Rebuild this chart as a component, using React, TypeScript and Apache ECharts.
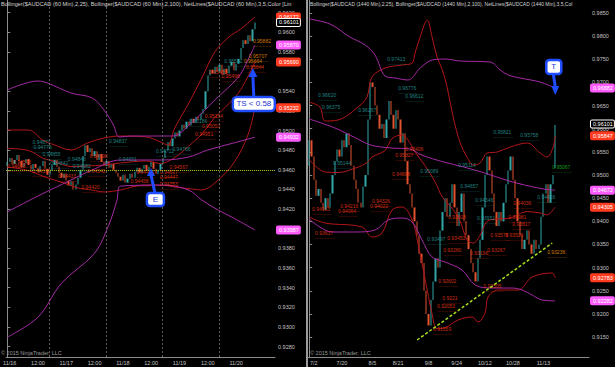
import React, { useEffect, useRef } from "react";
import * as echarts from "echarts";

const FONT = "'Liberation Sans', Arial, sans-serif";

// ---------------- LEFT PANEL (60 Min) ----------------
const leftOpen = [
  0.9464,0.9468,0.9472,0.9466,0.9470,0.9475,0.9469,0.9463,0.9467,0.9471,
  0.9465,0.9460,0.9466,0.9462,0.9458,0.9464,0.9469,0.9461,0.9455,0.9459,
  0.9465,0.9470,0.9463,0.9457,0.9452,0.9456,0.9449,0.9444,0.9448,0.9440,
  0.9445,0.9452,0.9460,0.9474,0.9485,0.9478,0.9482,0.9474,0.9479,0.9470,
  0.9476,0.9468,0.9464,0.9469,0.9462,0.9466,0.9460,0.9457,0.9453,0.9449,
  0.9455,0.9447,0.9451,0.9456,0.9452,0.9458,0.9462,0.9457,0.9461,0.9465,
  0.9459,0.9463,0.9468,0.9461,0.9456,0.9460,0.9466,0.9472,0.9480,0.9488,
  0.9484,0.9492,0.9498,0.9494,0.9500,0.9506,0.9502,0.9509,0.9505,0.9512,
  0.9508,0.9514,0.9511,0.9517,0.9522,0.9540,0.9556,0.9562,0.9558,0.9565,
  0.9560,0.9567,0.9557,0.9563,0.9558,0.9566,0.9570,0.9561,0.9568,0.9573,
  0.9584,0.9592,0.9588,0.9597,0.9591,0.9603,
];
const leftHigh = [
  0.9474,0.9477,0.9475,0.9474,0.9479,0.9478,0.9472,0.9470,0.9476,0.9474,
  0.9468,0.9470,0.9469,0.9465,0.9467,0.9473,0.9472,0.9464,0.9462,0.9469,
  0.9474,0.9473,0.9466,0.9460,0.9460,0.9458,0.9452,0.9451,0.9450,0.9449,
  0.9456,0.9466,0.9480,0.9492,0.9489,0.9486,0.9485,0.9483,0.9481,0.9480,
  0.9479,0.9472,0.9473,0.9471,0.9469,0.9469,0.9463,0.9460,0.9456,0.9458,
  0.9458,0.9454,0.9460,0.9459,0.9461,0.9466,0.9465,0.9463,0.9468,0.9467,
  0.9466,0.9471,0.9470,0.9464,0.9463,0.9469,0.9476,0.9484,0.9493,0.9491,
  0.9495,0.9501,0.9500,0.9503,0.9509,0.9508,0.9512,0.9511,0.9515,0.9514,
  0.9517,0.9516,0.9520,0.9525,0.9545,0.9562,0.9568,0.9566,0.9570,0.9568,
  0.9571,0.9569,0.9566,0.9565,0.9569,0.9575,0.9573,0.9571,0.9577,0.9588,
  0.9596,0.9595,0.9600,0.9599,0.9606,0.9612,
];
const leftLow = [
  0.9458,0.9464,0.9463,0.9462,0.9466,0.9465,0.9459,0.9460,0.9464,0.9461,
  0.9455,0.9457,0.9458,0.9454,0.9455,0.9460,0.9458,0.9451,0.9452,0.9456,
  0.9461,0.9460,0.9453,0.9447,0.9448,0.9444,0.9439,0.9441,0.9436,0.9437,
  0.9442,0.9449,0.9457,0.9470,0.9474,0.9473,0.9470,0.9471,0.9466,0.9467,
  0.9464,0.9459,0.9461,0.9457,0.9459,0.9455,0.9452,0.9448,0.9444,0.9446,
  0.9443,0.9444,0.9448,0.9448,0.9449,0.9455,0.9453,0.9454,0.9458,0.9455,
  0.9456,0.9460,0.9457,0.9450,0.9453,0.9457,0.9463,0.9469,0.9477,0.9480,
  0.9481,0.9489,0.9490,0.9491,0.9497,0.9498,0.9499,0.9502,0.9503,0.9505,
  0.9505,0.9508,0.9508,0.9513,0.9518,0.9536,0.9551,0.9554,0.9555,0.9557,
  0.9557,0.9554,0.9555,0.9554,0.9556,0.9563,0.9558,0.9559,0.9565,0.9570,
  0.9580,0.9584,0.9585,0.9588,0.9589,0.9600,
];
const leftClose = [
  0.9468,0.9472,0.9466,0.9470,0.9475,0.9469,0.9463,0.9467,0.9471,0.9465,
  0.9460,0.9466,0.9462,0.9458,0.9464,0.9469,0.9461,0.9455,0.9459,0.9465,
  0.9470,0.9463,0.9457,0.9452,0.9456,0.9449,0.9444,0.9448,0.9440,0.9445,
  0.9452,0.9460,0.9474,0.9485,0.9478,0.9482,0.9474,0.9479,0.9470,0.9476,
  0.9468,0.9464,0.9469,0.9462,0.9466,0.9460,0.9457,0.9453,0.9449,0.9455,
  0.9447,0.9451,0.9456,0.9452,0.9458,0.9462,0.9457,0.9461,0.9465,0.9459,
  0.9463,0.9468,0.9461,0.9456,0.9460,0.9466,0.9472,0.9480,0.9488,0.9484,
  0.9492,0.9498,0.9494,0.9500,0.9506,0.9502,0.9509,0.9505,0.9512,0.9508,
  0.9514,0.9511,0.9517,0.9522,0.9540,0.9556,0.9562,0.9558,0.9565,0.9560,
  0.9567,0.9557,0.9563,0.9558,0.9566,0.9570,0.9561,0.9568,0.9573,0.9584,
  0.9592,0.9588,0.9597,0.9591,0.9603,0.9610,
];

const leftSlotCount = 114;
const leftTickSlots = [1, 13, 25, 37, 49, 61, 73, 85, 97];
const leftTickLabels = ["11/16", "12:00", "11/17", "12:00", "11/18", "12:00", "11/19", "12:00", "11/20"];
const leftSessionBreaks = [17.8, 41.8, 65.9, 89.9];
const leftYTicks = [0.928, 0.93, 0.932, 0.934, 0.936, 0.938, 0.94, 0.942, 0.944, 0.946, 0.948, 0.95, 0.952, 0.954, 0.958, 0.96, 0.962];
const leftYMin = 0.92694;
const leftYMax = 0.96329;
const leftEntryLevel = 0.946;

// Bollinger (2,25) — red
const leftRedUpper = [[0,0.95005],[9,0.95005],[15,0.94903],[20,0.94853],[27,0.94802],[34,0.94873],[41,0.94924],[48,0.94944],[59,0.94934],[65,0.94883],[68,0.94853],[71,0.95026],[77,0.95281],[82.5,0.95535],[88,0.958],[94,0.95953],[99,0.96034],[105,0.96156]];
const leftRedMid = [[0,0.94817],[9,0.94797],[15,0.9472],[20,0.94685],[27,0.94634],[34,0.94639],[41,0.94649],[48,0.9467],[59,0.9469],[65,0.94664],[71,0.94725],[77,0.94843],[82.5,0.94965],[88,0.95133],[94,0.95275],[99,0.95418],[105,0.95698]];
const leftRedLower = [[0,0.94628],[8,0.94598],[16,0.94527],[24,0.94466],[30,0.94415],[36,0.94395],[41,0.94374],[48,0.94395],[58,0.94445],[65,0.94445],[71,0.94425],[78,0.94405],[82.5,0.94395],[88,0.94466],[96,0.94669],[102,0.94954],[105,0.95232]];
// Bollinger (2,100) — purple
const leftPurpleUpper = [[0,0.95413],[13,0.95504],[17,0.95484],[27,0.95382],[36,0.95331],[41,0.95209],[45,0.95056],[47.5,0.94934],[53,0.94944],[70,0.94944],[78,0.95077],[88,0.95311],[98,0.95545],[102,0.95718],[105,0.9587]];
const leftPurpleMid = [[0,0.94171],[13,0.94333],[27,0.94496],[36,0.94598],[48,0.947],[66,0.947],[77,0.94731],[85,0.94802],[96,0.94873],[105,0.94932]];
const leftPurpleLower = [[0,0.92896],[13,0.93099],[23,0.93446],[37,0.93751],[43,0.94036],[46.5,0.94291],[48,0.94434],[66,0.94444],[77,0.94393],[82.5,0.94291],[89.5,0.94189],[96,0.94108],[105,0.93987]];

// NetLines notes [bar, price, text]
const leftTealNotes = [[10.7,0.94873,"0.94877"],[11.1,0.94822,"0.94775"],[14.9,0.94751,"0.94855"],[18.2,0.94659,"0.94842"],[25.6,0.947,"0.94848"],[27.7,0.94629,"0.94682"],[43.1,0.94883,"0.94837"],[47.2,0.947,"0.94651"],[70,0.94802,"0.94766"],[63,0.94781,"0.94712"],[77.1,0.95088,"0.95186"],[92,0.95698,"0.95592"]];
const leftRedNotes = [[34.8,0.94731,"0.94696"],[33.9,0.94578,"0.94542"],[31.4,0.94415,"0.94420"],[0,0.94629,"0.94608"],[2.4,0.94669,"0.94573"],[10.7,0.94578,"0.94599"],[21.5,0.94527,"0.94433"],[54.7,0.94568,"0.94421"],[52.2,0.94476,"0.94458"],[68.8,0.94619,"0.94567"],[64.6,0.94568,"0.94517"],[64.6,0.94517,"0.94447"],[64.6,0.94446,"0.94353"],[83.7,0.95139,"0.95164"],[82.5,0.95037,"0.95053"],[79.6,0.94955,"0.94951"],[85.4,0.95586,"0.95485"],[90.8,0.95545,"0.95496"],[101.2,0.95637,"0.95644"]];
const leftOrangeNotes = [[104.1,0.95902,"0.95882"],[102.4,0.95749,"0.95707"],[100.3,0.95698,"0.95664"]];

// price tags on the left axis [price, text, kind]
const leftTags = [[0.96156,"0.96172","red"],[0.96101,"0.96101","last"],[0.9587,"0.95870","pink"],[0.95698,"0.95690","red"],[0.95232,"0.95232","red"],[0.94932,"0.94932","pink"],[0.93987,"0.93987","pink"]];

// ---------------- RIGHT PANEL (1440 Min) ----------------
const rightOpen = [
  0.9520,0.9575,0.9540,0.9490,0.9455,0.9470,0.9440,0.9425,0.9450,0.9430,
  0.9460,0.9500,0.9530,0.9555,0.9540,0.9575,0.9560,0.9590,0.9565,0.9520,
  0.9490,0.9470,0.9440,0.9430,0.9475,0.9500,0.9620,0.9700,0.9690,0.9650,
  0.9630,0.9600,0.9610,0.9580,0.9620,0.9660,0.9630,0.9600,0.9640,0.9620,
  0.9570,0.9590,0.9530,0.9480,0.9460,0.9430,0.9400,0.9370,0.9330,0.9310,
  0.9250,0.9200,0.9175,0.9230,0.9270,0.9320,0.9300,0.9380,0.9420,0.9450,
  0.9410,0.9440,0.9480,0.9430,0.9390,0.9420,0.9460,0.9400,0.9370,0.9340,
  0.9310,0.9290,0.9270,0.9320,0.9360,0.9430,0.9500,0.9540,0.9510,0.9460,
  0.9420,0.9390,0.9420,0.9400,0.9440,0.9480,0.9510,0.9540,0.9490,0.9450,
  0.9400,0.9370,0.9340,0.9360,0.9380,0.9350,0.9330,0.9360,0.9340,0.9350,
  0.9410,0.9460,0.9480,0.9440,0.9480,0.9515,
];
const rightHigh = [
  0.9655,0.9600,0.9560,0.9505,0.9490,0.9480,0.9455,0.9462,0.9465,0.9470,
  0.9510,0.9545,0.9575,0.9570,0.9600,0.9595,0.9615,0.9600,0.9575,0.9530,
  0.9505,0.9485,0.9450,0.9490,0.9520,0.9640,0.9748,0.9725,0.9700,0.9675,
  0.9645,0.9640,0.9625,0.9640,0.9670,0.9668,0.9645,0.9655,0.9650,0.9630,
  0.9610,0.9600,0.9540,0.9490,0.9470,0.9440,0.9410,0.9390,0.9350,0.9320,
  0.9265,0.9220,0.9245,0.9290,0.9335,0.9340,0.9395,0.9440,0.9470,0.9460,
  0.9460,0.9510,0.9490,0.9445,0.9435,0.9470,0.9465,0.9420,0.9390,0.9355,
  0.9330,0.9300,0.9335,0.9380,0.9445,0.9520,0.9575,0.9555,0.9525,0.9470,
  0.9435,0.9440,0.9430,0.9455,0.9495,0.9525,0.9568,0.9550,0.9500,0.9460,
  0.9410,0.9380,0.9385,0.9395,0.9390,0.9365,0.9375,0.9370,0.9365,0.9420,
  0.9475,0.9510,0.9495,0.9490,0.9515,0.9612,
];
const rightLow = [
  0.9505,0.9525,0.9480,0.9440,0.9445,0.9428,0.9415,0.9418,0.9420,0.9425,
  0.9452,0.9490,0.9520,0.9528,0.9535,0.9550,0.9552,0.9558,0.9510,0.9470,
  0.9455,0.9425,0.9420,0.9422,0.9465,0.9490,0.9610,0.9670,0.9640,0.9610,
  0.9585,0.9590,0.9565,0.9575,0.9610,0.9620,0.9585,0.9595,0.9605,0.9560,
  0.9560,0.9515,0.9465,0.9440,0.9420,0.9390,0.9360,0.9320,0.9295,0.9240,
  0.9185,0.9160,0.9170,0.9215,0.9255,0.9285,0.9290,0.9370,0.9405,0.9400,
  0.9400,0.9430,0.9420,0.9380,0.9375,0.9410,0.9390,0.9360,0.9330,0.9300,
  0.9275,0.9255,0.9262,0.9310,0.9350,0.9420,0.9490,0.9500,0.9450,0.9410,
  0.9380,0.9385,0.9390,0.9395,0.9430,0.9470,0.9500,0.9480,0.9440,0.9395,
  0.9360,0.9310,0.9330,0.9350,0.9340,0.9320,0.9325,0.9330,0.9335,0.9345,
  0.9405,0.9445,0.9435,0.9435,0.9470,0.9510,
];
const rightClose = [
  0.9575,0.9540,0.9490,0.9455,0.9470,0.9440,0.9425,0.9450,0.9430,0.9460,
  0.9500,0.9530,0.9555,0.9540,0.9575,0.9560,0.9590,0.9565,0.9520,0.9490,
  0.9470,0.9440,0.9430,0.9475,0.9500,0.9620,0.9700,0.9690,0.9650,0.9630,
  0.9600,0.9610,0.9580,0.9620,0.9660,0.9630,0.9600,0.9640,0.9620,0.9570,
  0.9590,0.9530,0.9480,0.9460,0.9430,0.9400,0.9370,0.9330,0.9310,0.9250,
  0.9200,0.9175,0.9230,0.9270,0.9320,0.9300,0.9380,0.9420,0.9450,0.9410,
  0.9440,0.9480,0.9430,0.9390,0.9420,0.9460,0.9400,0.9370,0.9340,0.9310,
  0.9290,0.9270,0.9320,0.9360,0.9430,0.9500,0.9540,0.9510,0.9460,0.9420,
  0.9390,0.9420,0.9400,0.9440,0.9480,0.9510,0.9540,0.9490,0.9450,0.9400,
  0.9370,0.9340,0.9360,0.9380,0.9350,0.9330,0.9360,0.9340,0.9350,0.9410,
  0.9460,0.9480,0.9440,0.9480,0.9500,0.9608,
];

const rightSlotCount = 120;
const rightTickSlots = [2, 14, 27, 38, 51, 63, 75, 87, 100];
const rightTickLabels = ["7/2", "7/20", "8/5", "8/21", "9/8", "9/24", "10/12", "10/28", "11/13"];
const rightYTicks = [0.915, 0.92, 0.925, 0.93, 0.935, 0.94, 0.945, 0.95, 0.955, 0.96, 0.965, 0.97, 0.975, 0.98, 0.985];
const rightYMin = 0.91069;
const rightYMax = 0.98781;
const rightTrendFrom = [46.1, 0.91436];
const rightTrendTo = [103.8, 0.93531];

const rightRedUpper = [[0,0.96577],[4.6,0.96469],[6.8,0.96167],[12.3,0.96189],[20.4,0.96448],[24.7,0.96685],[26.8,0.97117],[32.4,0.97312],[39.7,0.97377],[44,0.9742],[45.2,0.97636],[47.4,0.97982],[50.4,0.98349],[52.5,0.97982],[54.6,0.9755],[56.8,0.9728],[58.9,0.969],[61.5,0.96253],[64.5,0.95692],[67.4,0.95389],[70,0.95216],[73,0.9526],[76,0.95476],[80.3,0.95497],[85.8,0.95605],[93.1,0.95692],[98.6,0.95476],[101.6,0.95389],[104.2,0.95605],[105,0.95847]];
const rightRedMid = [[0,0.95335],[6.8,0.95065],[12.3,0.95054],[20.4,0.95162],[24.7,0.9527],[26.8,0.95389],[32.4,0.9553],[35.4,0.95789],[39.7,0.95864],[42.2,0.95756],[45.2,0.955],[49.5,0.952],[53.8,0.9485],[56.8,0.9453],[61.5,0.9425],[64.5,0.94],[67.4,0.936],[70,0.9353],[73,0.937],[76,0.94],[80.3,0.9405],[85.8,0.9407],[93.1,0.9421],[98.6,0.9418],[101.6,0.9414],[105,0.94305]];
const rightRedLower = [[0,0.94093],[6.8,0.93963],[22.6,0.93877],[26.8,0.93661],[31.1,0.93747],[35.4,0.94244],[39.7,0.94309],[44,0.94028],[46.5,0.9351],[49.5,0.92754],[52.5,0.92],[54.6,0.9168],[58,0.917],[63.6,0.91868],[69.6,0.91933],[72.1,0.91825],[75.1,0.92019],[76.4,0.92365],[80.7,0.92516],[89.2,0.92516],[95.2,0.92797],[103.8,0.92883],[105,0.92783]];
const rightPurpleUpper = [[0,0.9837],[8.9,0.98262],[17.4,0.97982],[23.9,0.97809],[28.1,0.97593],[32.4,0.97139],[36.7,0.97096],[42.2,0.97053],[47.4,0.97312],[52.5,0.97485],[58,0.97506],[64.5,0.97463],[77.3,0.97441],[81.6,0.97269],[85,0.97161],[90.1,0.97096],[98.6,0.97009],[105,0.96882]];
const rightPurpleMid = [[0,0.9621],[11,0.96016],[19.9,0.958],[26.3,0.95648],[35,0.95584],[43,0.95562],[48,0.95432],[57.5,0.95281],[66,0.95173],[75,0.95043],[84,0.94892],[92,0.94784],[100,0.947],[105,0.94672]];
const rightPurpleLower = [[0,0.9405],[9.8,0.93769],[19.6,0.93769],[28.1,0.93812],[33.7,0.94028],[39.7,0.94071],[44,0.93985],[48.2,0.93596],[52.5,0.93229],[58,0.93121],[65.3,0.92948],[70.9,0.92624],[78.1,0.92559],[86.7,0.92559],[91,0.92516],[95.2,0.92408],[99.5,0.923],[105,0.92282]];

const rightTealNotes = [[33.3,0.97485,"0.97413"],[38,0.96858,"0.96776"],[41,0.96685,"0.96612"],[3.8,0.96707,"0.96620"],[5.5,0.96448,"0.96375"],[20.9,0.96383,"0.96267"],[10.2,0.95238,"0.95144"],[47.4,0.95065,"0.95089"],[50.4,0.93596,"0.93497"],[78.6,0.95908,"0.95821"],[90.1,0.95843,"0.95758"],[63.6,0.95195,"0.95114"],[64.5,0.94741,"0.94657"],[70.9,0.94439,"0.94346"],[71.7,0.9405,"0.93951"],[97.4,0.94503,"0.94456"]];
const rightRedNotes = [[41,0.9554,"0.95406"],[36.7,0.95411,"0.95327"],[35.4,0.95,"0.94888"],[1.2,0.94244,"0.94163"],[13.2,0.94309,"0.94216"],[12.3,0.94201,"0.94064"],[26.8,0.94417,"0.94326"],[26,0.94309,"0.94022"],[2.5,0.93726,"0.93637"],[52.9,0.91652,"0.91569"],[56.8,0.92322,"0.9221"],[54.6,0.92149,"0.92053"],[55.1,0.92689,"0.92602"],[57.2,0.93359,"0.93280"],[59.3,0.94071,"0.93918"],[58.9,0.93618,"0.93453"],[68.7,0.93294,"0.93196"],[76,0.93359,"0.93267"],[87.1,0.94374,"0.94036"],[85,0.94071,"0.93981"],[86.7,0.9392,"0.93817"],[77.3,0.93683,"0.93578"],[83.7,0.93683,"0.93526"],[74.3,0.92581,"0.92505"]];
const rightGreenNotes = [[103.8,0.95152,"0.95067"]];
const rightOrangeNotes = [[101.6,0.93315,"0.93236"]];

const rightTags = [[0.96882,"0.96882","pink"],[0.96101,"0.96101","last"],[0.95847,"0.95847","red"],[0.94672,"0.94672","pink"],[0.94305,"0.94305","red"],[0.92783,"0.92783","red"],[0.92282,"0.92282","pink"]];

// annotation anchors [bar, price]
const entryTip = [60.9, 0.94619];
const stopTip = [104.1, 0.95637];
const targetTip = [105.1, 0.96729];

const leftTitle = "Bollinger($AUDCAD (60 Min),2,25), Bollinger($AUDCAD (60 Min),2,100), NetLines($AUDCAD (60 Min),3,5,Color [Lin";
const rightTitle = "Bollinger($AUDCAD (1440 Min),2,25), Bollinger($AUDCAD (1440 Min),2,100), NetLines($AUDCAD (1440 Min),3,5,Col";
const copyright = "© 2015 NinjaTrader, LLC";

// ---------------- styling ----------------
const C_TEAL = "#33a7a7";
const C_DOWN = "#e1522f";
const C_WICK = "#8a8a8a";
const C_RED = "#b3161a";
const C_PURPLE = "#a52aa5";
const C_AXIS = "#8c8c8c";
const C_LABEL = "#c4c4c4";
const C_BLUE = "#1f4cff";
const tagColors: Record<string, [string, string, string]> = {
  red: ["#ff3b1f", "#ffffff", "#ff3b1f"],
  pink: ["#ff5cff", "#ffffff", "#ff5cff"],
  last: ["#000000", "#ffffff", "#ffffff"],
};

function bodies(o: number[], c: number[]) {
  return o.map((v, i) => [v, c[i], Math.min(v, c[i]), Math.max(v, c[i])]);
}
function wicks(l: number[], h: number[]) {
  return l.map((v, i) => [v, h[i], v, h[i]]);
}
function bandLine(data: number[][], color: string, xi: number, yi: number, extra: any = {}) {
  return {
    type: "line", xAxisIndex: xi, yAxisIndex: yi, data, showSymbol: false, smooth: 0.35,
    lineStyle: { color, width: 1 }, silent: true, z: 3, ...extra,
  };
}
function notes(list: any[], color: string, xi: number, yi: number) {
  return {
    type: "scatter", xAxisIndex: xi, yAxisIndex: yi, symbolSize: 0.1, silent: true, z: 4,
    itemStyle: { color: "rgba(0,0,0,0)" },
    data: list.map((n) => ({ value: [n[0], n[1]], name: n[2] })),
    label: {
      show: true, position: "right", distance: 0,
      formatter: (p: any) => `{t|${p.name}}\n{u|..............}`,
      rich: {
        t: { fontSize: 5, lineHeight: 6, color, fontFamily: FONT },
        u: { fontSize: 5, lineHeight: 2, color, fontFamily: FONT },
      },
    },
  };
}
function tagLines(tags: any[]) {
  return tags.map((t) => {
    const [bg, fg, bd] = tagColors[t[2]];
    return {
      yAxis: t[0],
      lineStyle: { color: "rgba(0,0,0,0)", width: 1 },
      label: {
        show: true, position: "end", distance: 2, formatter: t[1],
        backgroundColor: bg, color: fg, borderColor: bd, borderWidth: 1, borderRadius: 1,
        fontSize: 5.5, fontFamily: FONT, padding: [1, 1, 0, 2],
      },
    };
  });
}
function candleSeries(xi: number, yi: number, o: number[], h: number[], l: number[], c: number[]) {
  return [
    {
      type: "candlestick", xAxisIndex: xi, yAxisIndex: yi, data: wicks(l, h), barWidth: 1, silent: true, z: 1,
      itemStyle: { color: C_WICK, color0: C_WICK, borderColor: C_WICK, borderColor0: C_WICK, borderWidth: 0 },
    },
    {
      type: "candlestick", xAxisIndex: xi, yAxisIndex: yi, data: bodies(o, c), barWidth: 1.8, silent: true, z: 2,
      itemStyle: { color: C_TEAL, color0: C_DOWN, borderColor: C_TEAL, borderColor0: C_DOWN, borderWidth: 0 },
    },
  ];
}
function catAxis(grid: number, count: number, prefix: string, slots: number[], labels: string[]) {
  const map: Record<number, string> = {};
  slots.forEach((s, k) => (map[s] = labels[k]));
  return {
    type: "category", gridIndex: grid,
    data: Array.from({ length: count }, (_, i) => `${prefix}${i}`),
    axisLine: { lineStyle: { color: C_AXIS } },
    axisTick: { show: false },
    splitLine: { show: false },
    axisLabel: {
      color: C_LABEL, fontSize: 5.5, fontFamily: FONT, margin: 3,
      interval: (idx: number) => map[idx] !== undefined,
      formatter: (_v: string, idx: number) => map[idx] ?? "",
    },
  };
}
function valAxisX(grid: number, count: number) {
  return { type: "value", gridIndex: grid, min: -0.5, max: count - 0.5, show: false };
}
function priceAxis(grid: number, min: number, max: number, ticks: number[]) {
  return {
    type: "value", gridIndex: grid, position: "right", min, max, scale: true,
    axisLine: { show: true, lineStyle: { color: C_AXIS } },
    axisTick: { show: true, length: 3, lineStyle: { color: C_AXIS }, customValues: ticks },
    splitLine: { show: false },
    axisLabel: {
      color: C_LABEL, fontSize: 5.5, fontFamily: FONT, margin: 3, customValues: ticks,
      formatter: (v: number) => v.toFixed(4),
    },
  };
}

export default function App() {
  const ref = useRef<HTMLDivElement>(null);
  useEffect(() => {
    const chart = echarts.init(ref.current!, null, { renderer: "svg" });
    const series: any[] = [
      ...candleSeries(0, 0, leftOpen, leftHigh, leftLow, leftClose), // 0,1
      bandLine(leftRedUpper, C_RED, 1, 0, {
        markLine: {
          silent: true, symbol: ["none", "none"], precision: 6, label: { show: false },
          data: [
            ...leftSessionBreaks.map((x) => ({ xAxis: x, lineStyle: { color: "#5e5e5e", type: [2, 2], width: 1 } })),
            { yAxis: leftEntryLevel, lineStyle: { color: "#a6cf1e", type: [1, 1], width: 1 } },
          ],
        },
      }), // 2
      bandLine(leftRedMid, C_RED, 1, 0), // 3
      bandLine(leftRedLower, C_RED, 1, 0), // 4
      bandLine(leftPurpleUpper, C_PURPLE, 1, 0), // 5
      bandLine(leftPurpleMid, C_PURPLE, 1, 0, {
        markLine: {
          silent: true, symbol: ["none", "none"], precision: 6, z: 20,
          label: { show: true, position: "end" },
          data: tagLines(leftTags),
        },
      }), // 6
      bandLine(leftPurpleLower, C_PURPLE, 1, 0), // 7
      notes(leftTealNotes, "#2aa3a3", 1, 0),
      notes(leftRedNotes, "#ff3a1a", 1, 0),
      notes(leftOrangeNotes, "#ff9a00", 1, 0),
      ...candleSeries(2, 1, rightOpen, rightHigh, rightLow, rightClose),
      bandLine(rightRedUpper, C_RED, 3, 1, {
        markLine: {
          silent: true, symbol: ["none", "none"], precision: 6, label: { show: false },
          data: [[{ coord: rightTrendFrom }, { coord: rightTrendTo }]],
          lineStyle: { color: "#a6e01e", type: [3, 2], width: 1.5 },
        },
      }),
      bandLine(rightRedMid, C_RED, 3, 1),
      bandLine(rightRedLower, C_RED, 3, 1),
      bandLine(rightPurpleUpper, C_PURPLE, 3, 1),
      bandLine(rightPurpleMid, C_PURPLE, 3, 1, {
        markLine: {
          silent: true, symbol: ["none", "none"], precision: 6, z: 20,
          label: { show: true, position: "end" },
          data: tagLines(rightTags),
        },
      }), // index 17
      bandLine(rightPurpleLower, C_PURPLE, 3, 1),
      notes(rightTealNotes, "#2aa3a3", 3, 1),
      notes(rightRedNotes, "#ff3a1a", 3, 1),
      notes(rightGreenNotes, "#19c219", 3, 1),
      notes(rightOrangeNotes, "#ff9a00", 3, 1),
    ];
    const option: any = {
      animation: false,
      backgroundColor: "#000000",
      grid: [
        { left: 0, top: 0, width: 275, height: 357 },
        { left: 308, top: 0, width: 281, height: 357 },
      ],
      xAxis: [
        catAxis(0, leftSlotCount, "L", leftTickSlots, leftTickLabels),
        valAxisX(0, leftSlotCount),
        catAxis(1, rightSlotCount, "R", rightTickSlots, rightTickLabels),
        valAxisX(1, rightSlotCount),
      ],
      yAxis: [
        priceAxis(0, leftYMin, leftYMax, leftYTicks),
        priceAxis(1, rightYMin, rightYMax, rightYTicks),
      ],
      series,
    };
    chart.setOption(option);

    const L = (p: number[]) => chart.convertToPixel({ seriesIndex: 6 }, p) as number[];
    const R = (p: number[]) => chart.convertToPixel({ seriesIndex: 17 }, p) as number[];
    const e = L(entryTip);
    const s = L(stopTip);
    const t = R(targetTip);

    const boxStyle = { fill: "#ffffff", stroke: C_BLUE, lineWidth: 2.5 };
    const txt = (x: number, y: number, text: string, size: number) => ({
      type: "text", x, y, z: 100,
      style: { text, fill: "#1a33d6", font: `${size}px ${FONT}`, align: "center", verticalAlign: "middle" },
    });
    const graphics: any[] = [
      { type: "rect", shape: { x: 306, y: 0, width: 2, height: 367 }, style: { fill: "#9a9a9a" }, z: 50 },
      {
        type: "text", x: 1, y: 1, z: 60,
        style: { text: leftTitle, fill: "#d4d4d4", font: `5.6px ${FONT}`, width: 303, overflow: "truncate", ellipsis: "" },
      },
      {
        type: "text", x: 310, y: 1, z: 60,
        style: { text: rightTitle, fill: "#d4d4d4", font: `5px ${FONT}`, width: 278, overflow: "truncate", ellipsis: "" },
      },
      { type: "text", x: 1, y: 350, z: 60, style: { text: copyright, fill: "#9a9a9a", font: `5.5px ${FONT}` } },
      { type: "text", x: 310, y: 350, z: 60, style: { text: copyright, fill: "#9a9a9a", font: `5.5px ${FONT}` } },
      // E (entry) callout
      { type: "line", z: 90, shape: { x1: e[0] + 4, y1: e[1] + 25, x2: e[0], y2: e[1] + 7 }, style: { stroke: C_BLUE, lineWidth: 3 } },
      { type: "polygon", z: 90, shape: { points: [[e[0], e[1]], [e[0] - 4, e[1] + 8], [e[0] + 4, e[1] + 8]] }, style: { fill: C_BLUE } },
      { type: "rect", z: 95, shape: { x: e[0] - 4, y: e[1] + 25, width: 17, height: 13, r: 3 }, style: boxStyle },
      txt(e[0] + 4.5, e[1] + 31.5, "E", 8),
      // TS callout
      { type: "line", z: 90, shape: { x1: s[0] + 1, y1: s[1] + 29, x2: s[0], y2: s[1] + 8 }, style: { stroke: C_BLUE, lineWidth: 3 } },
      { type: "polygon", z: 90, shape: { points: [[s[0], s[1]], [s[0] - 4.5, s[1] + 9], [s[0] + 4.5, s[1] + 9]] }, style: { fill: C_BLUE } },
      { type: "rect", z: 95, shape: { x: s[0] - 20, y: s[1] + 29, width: 42, height: 14, r: 4 }, style: boxStyle },
      txt(s[0] + 1, s[1] + 36, "TS < 0.58", 8),
      // T callout
      { type: "line", z: 90, shape: { x1: t[0] - 2, y1: t[1] - 21, x2: t[0], y2: t[1] - 8 }, style: { stroke: C_BLUE, lineWidth: 3 } },
      { type: "polygon", z: 90, shape: { points: [[t[0], t[1]], [t[0] - 4, t[1] - 9], [t[0] + 4, t[1] - 9]] }, style: { fill: C_BLUE } },
      { type: "rect", z: 95, shape: { x: t[0] - 9, y: t[1] - 35, width: 15, height: 14, r: 3 }, style: boxStyle },
      txt(t[0] - 1.5, t[1] - 28, "T", 8),
    ];
    chart.setOption({ graphic: graphics });
    return () => chart.dispose();
  }, []);
  return (
    <div
      ref={ref}
      style={{ position: "absolute", left: 0, top: 0, width: 615, height: 367, background: "#000" }}
    />
  );
}
